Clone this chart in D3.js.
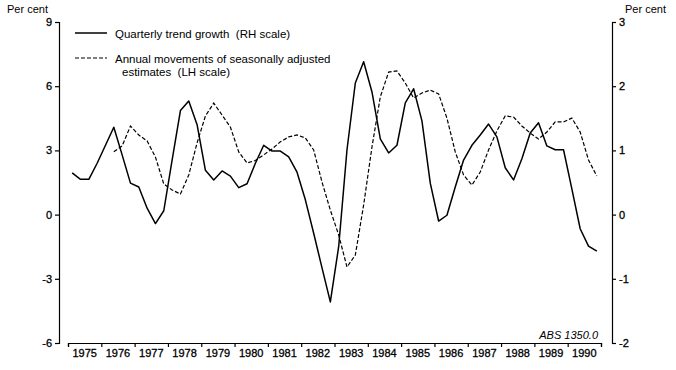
<!DOCTYPE html>
<html>
<head>
<meta charset="utf-8">
<script src="https://cdn.jsdelivr.net/npm/d3@7"></script>
<style>
  body { margin: 0; background: #fff; }
  svg { display: block; font-family: "Liberation Sans", Arial, sans-serif; }
  text { white-space: pre; }
</style>
</head>
<body>
<svg width="676" height="370"></svg>
<script>
// year labels on the x axis
var years = [1975, 1976, 1977, 1978, 1979, 1980, 1981, 1982,
             1983, 1984, 1985, 1986, 1987, 1988, 1989, 1990]

// quarterly trend growth, per cent (RH scale), 1975 Q1 .. 1990 Q4
var trendGrowth = [
  0.65, 0.55, 0.55, 0.80, 1.08, 1.36, 0.93, 0.49,
  0.43, 0.10, -0.14, 0.06, 0.85, 1.62, 1.77, 1.40,
  0.69, 0.54, 0.68, 0.60, 0.42, 0.48, 0.80, 1.08,
  0.99, 0.99, 0.90, 0.66, 0.23, -0.29, -0.83, -1.36,
  -0.50, 1.01, 2.05, 2.38, 1.91, 1.18, 0.96, 1.08,
  1.74, 1.96, 1.46, 0.49, -0.10, -0.01, 0.43, 0.85,
  1.08, 1.24, 1.41, 1.21, 0.73, 0.54, 0.87, 1.27,
  1.43, 1.07, 1.01, 1.01, 0.40, -0.22, -0.49, -0.57
]

// annual movements of seasonally adjusted estimates, per cent (LH scale)
var annualMovement = [
  null, null, null, null, null, 2.94, 3.21, 4.14,
  3.72, 3.44, 2.69, 1.43, 1.15, 0.96, 1.85, 3.35,
  4.61, 5.21, 4.65, 4.09, 2.93, 2.41, 2.53, 2.79,
  3.07, 3.40, 3.63, 3.72, 3.58, 3.02, 1.52, 0.21,
  -0.95, -2.45, -1.89, 0.45, 3.16, 5.50, 6.66, 6.71,
  6.15, 5.45, 5.68, 5.82, 5.64, 4.51, 2.93, 1.85,
  1.38, 1.99, 3.02, 3.91, 4.61, 4.56, 4.14, 3.81,
  3.53, 3.86, 4.33, 4.33, 4.51, 3.86, 2.55, 1.80
]

var leftTicks = [9, 6, 3, 0, -3, -6]
var rightTicks = [3, 2, 1, 0, -1, -2]

var svg = d3.select('svg')

var x = d3.scaleLinear().domain([1975, 1991]).range([68, 601])
var yLeft = d3.scaleLinear().domain([-6, 9]).range([343, 22])
var yRight = d3.scaleLinear().domain([-2, 3]).range([343, 22])

// plain hyphen for negatives, like the original print
function plain(d) { return String(d) }

// quarter i sits in the middle of its quarter
function quarterTime(i) {
  return years[0] + (i + 0.5) / 4
}

function styleAxis(g) {
  g.attr('font-family', null).attr('font-size', null)
  g.selectAll('path, line').attr('stroke', '#000').attr('stroke-width', 1.2)
  g.selectAll('text')
    .attr('fill', '#000')
    .attr('font-size', 11)
    .attr('stroke', '#000')
    .attr('stroke-width', 0.3)
}

// left axis
svg.append('g')
  .attr('transform', 'translate(59,0)')
  .call(d3.axisLeft(yLeft).tickValues(leftTicks).tickSize(4).tickPadding(3).tickFormat(plain))
  .call(styleAxis)

// right axis
svg.append('g')
  .attr('transform', 'translate(612,0)')
  .call(d3.axisRight(yRight).tickValues(rightTicks).tickSize(4).tickPadding(3).tickFormat(plain))
  .call(styleAxis)

// x axis, ticks at year boundaries, labels centred on the year
svg.append('g')
  .attr('transform', 'translate(0,343)')
  .call(d3.axisBottom(x).tickValues(years.concat([1991])).tickSize(4).tickFormat(''))
  .call(styleAxis)

svg.append('g')
  .selectAll('text')
  .data(years)
  .enter().append('text')
    .attr('x', function (d) { return x(d + 0.5) })
    .attr('y', 357)
    .attr('text-anchor', 'middle')
    .attr('font-size', 11)
    .attr('stroke', '#000')
    .attr('stroke-width', 0.3)
    .text(function (d) { return d })

// axis titles
svg.append('text').attr('x', 7).attr('y', 13).attr('font-size', 11).text('Per cent')
svg.append('text').attr('x', 625).attr('y', 13).attr('font-size', 11).text('Per cent')

// source note
svg.append('text')
  .attr('x', 598).attr('y', 339)
  .attr('text-anchor', 'end')
  .attr('font-size', 11)
  .attr('font-style', 'italic')
  .text('ABS 1350.0')

// series lines
var trendLine = d3.line()
  .x(function (d, i) { return x(quarterTime(i)) })
  .y(function (d) { return yRight(d) })

var annualLine = d3.line()
  .defined(function (d) { return d !== null })
  .x(function (d, i) { return x(quarterTime(i)) })
  .y(function (d) { return yLeft(d) })

svg.append('path')
  .datum(annualMovement)
  .attr('d', annualLine)
  .attr('fill', 'none')
  .attr('stroke', '#000')
  .attr('stroke-width', 1.2)
  .attr('stroke-dasharray', '4,2')

svg.append('path')
  .datum(trendGrowth)
  .attr('d', trendLine)
  .attr('fill', 'none')
  .attr('stroke', '#000')
  .attr('stroke-width', 1.5)
  .attr('stroke-linejoin', 'round')

// legend
var legend = svg.append('g')

legend.append('line')
  .attr('x1', 75).attr('x2', 107).attr('y1', 33).attr('y2', 33)
  .attr('stroke', '#000').attr('stroke-width', 1.5)
legend.append('text')
  .attr('x', 115).attr('y', 38).attr('font-size', 11.5)
  .text('Quarterly trend growth  (RH scale)')

legend.append('line')
  .attr('x1', 75).attr('x2', 107).attr('y1', 58).attr('y2', 58)
  .attr('stroke', '#000').attr('stroke-width', 1.2)
  .attr('stroke-dasharray', '4,2')
legend.append('text')
  .attr('x', 115).attr('y', 63).attr('font-size', 11.5)
  .text('Annual movements of seasonally adjusted')
legend.append('text')
  .attr('x', 122).attr('y', 76).attr('font-size', 11.5)
  .text('estimates  (LH scale)')
</script>
</body>
</html>
